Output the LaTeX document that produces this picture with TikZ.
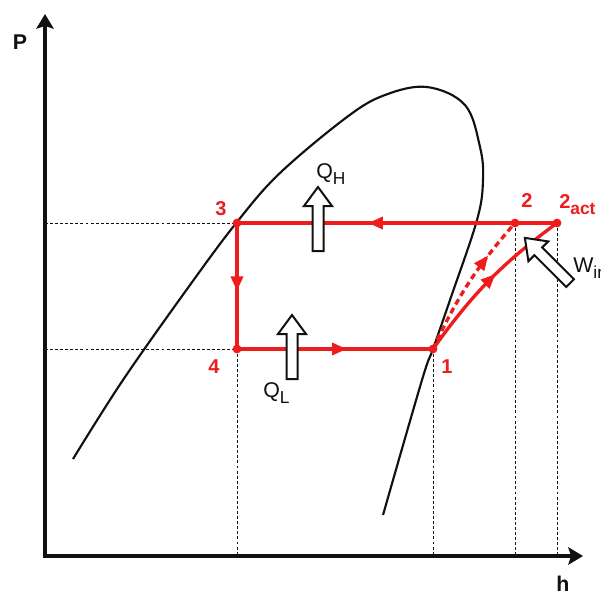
\documentclass[tikz,border=0pt]{standalone}
\usepackage{fontspec}
\setmainfont{Liberation Sans}
\usetikzlibrary{arrows.meta,decorations.markings}
\definecolor{Ink}{HTML}{111111}
\definecolor{CycleRed}{HTML}{EE1C1C}
\newcommand{\lowsub}[1]{\raisebox{-4.5pt}{\fontsize{13}{13}\selectfont #1}}
\newcommand{\heatarrow}[3]{%
  \draw[heatbody,shift={(#1,#2)},rotate=#3]
    (-32,-5.5) -- (13,-5.5) -- (13,-14) -- (32,0) -- (13,14) -- (13,5.5) -- (-32,5.5) -- cycle;
}
\tikzset{
  axisline/.style={Ink,line width=2.4pt,line join=miter},
  guide/.style={Ink,line width=0.6pt,dash pattern=on 2.2pt off 1.6pt},
  dome/.style={Ink,line width=1.6pt},
  cycleline/.style={CycleRed,line width=2.5pt},
  midarrow/.style={postaction={decorate},
    decoration={markings,mark=at position #1 with {\arrow{Triangle[length=11pt,width=9pt]}}}},
  heatbody/.style={draw=Ink,fill=white,line width=1.5pt,line join=miter},
  statelbl/.style={text=CycleRed,font=\fontsize{15}{15}\selectfont\bfseries,inner sep=0pt},
  axislbl/.style={text=Ink,font=\fontsize{16}{16}\selectfont\bfseries,inner sep=0pt},
  quantity/.style={text=Ink,font=\fontsize{16}{16}\selectfont,inner sep=0pt}
}

\begin{document}
\begin{tikzpicture}[x=0.75pt,y=-0.75pt]
  \useasboundingbox[fill=white] (0,0) rectangle (601,594);
  \coordinate (o) at (45,556);
  \coordinate (ptop) at (45,14);
  \coordinate (hend) at (583,556);
  \coordinate (p1) at (433,349);
  \coordinate (p2) at (515,223);
  \coordinate (p2a) at (557,223);
  \coordinate (p3) at (237,223);
  \coordinate (p4) at (237,349);

  \draw[guide] (o |- p3) -- (p3);
  \draw[guide] (o |- p4) -- (p4);
  \foreach \p in {p4,p1,p2,p2a}
    \draw[guide] (\p) -- (\p |- o);

  \draw[axisline,{Stealth[length=11pt,width=13pt,inset=2pt]}-{Stealth[length=11pt,width=13pt,inset=2pt]}]
    (ptop) -- (o) -- (hend);
  \node[axislbl] (plbl) at (20,42) {P};
  \node[axislbl,anchor=base] (hlbl) at (563,591) {h};

  \draw[dome] plot[smooth,tension=0.6] coordinates {(73,459) (123,380) (190,285) (237,222)
    (280,173) (347,117) (385,95) (427,87) (465,105) (480,147) (483,180) (477,220)
    (450,300) (433,349) (422,380) (383,515)};

  \draw[cycleline,midarrow=0.59] (p2a) -- (p3);
  \draw[cycleline,midarrow=0.54] (p3) -- (p4);
  \draw[cycleline,midarrow=0.56] (p4) -- (p1);
  \draw[cycleline,midarrow=0.55] (p1) to[bend left=9] (p2a);
  \draw[cycleline,dash pattern=on 4.5pt off 3pt,midarrow=0.72] (p1) to[bend left=8] (p2);
  \foreach \p in {p1,p2,p2a,p3,p4}
    \fill[CycleRed] (\p) circle (3.3pt);

  \heatarrow{318}{219}{90}
  \heatarrow{292}{347}{90}
  \heatarrow{547.5}{260.5}{135}

  \node[quantity,anchor=base west] (qhlbl) at (316,178) {Q\lowsub{H}};
  \node[quantity,anchor=base west] (qllbl) at (263,397) {Q\lowsub{L}};
  \node[quantity,anchor=base west] (winlbl) at (573,272) {W\lowsub{in}};

  \node[statelbl] (l3) at (221,209) {3};
  \node[statelbl] (l4) at (214,367) {4};
  \node[statelbl] (l1) at (447,367) {1};
  \node[statelbl] (l2) at (527,201) {2};
  \node[statelbl,anchor=base west] (l2a) at (559,208) {2\lowsub{\bfseries act}};
\end{tikzpicture}
\end{document}
